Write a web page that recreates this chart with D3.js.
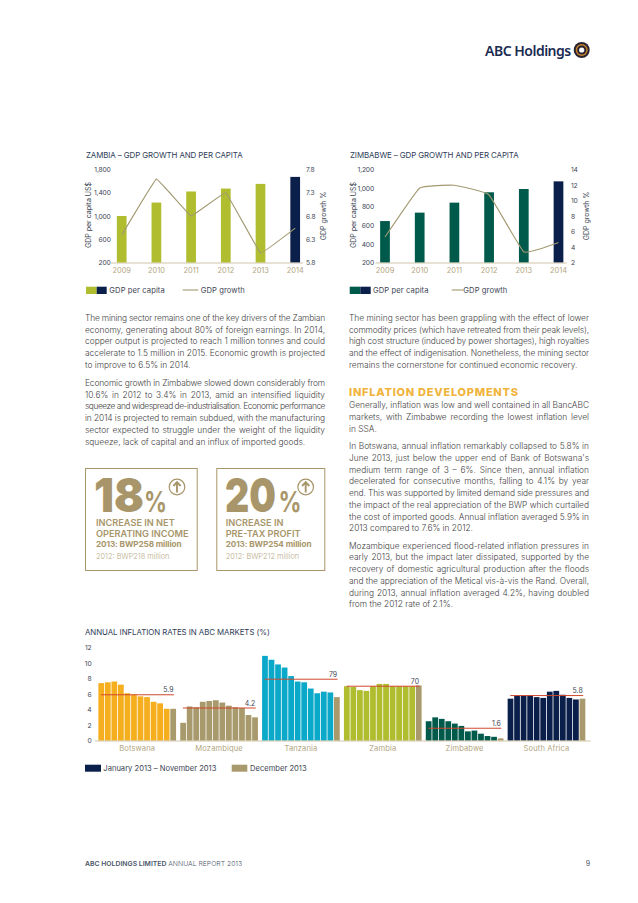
<!DOCTYPE html>
<html><head><meta charset="utf-8">
<style>
html,body{margin:0;padding:0;background:#fff}
svg{display:block}
text{font-family:Inter,"Liberation Sans",sans-serif}
</style>
<script src="https://cdn.jsdelivr.net/npm/d3@7"></script>
</head><body>
<svg id="page" width="638" height="903"></svg>
<script>
const years = ["2009","2010","2011","2012","2013","2014"];
const zambiaGdp = [1000,1230,1420,1470,1550,1670];
const zambiaGrowth = [6.39,7.59,6.8,7.3,6.01,6.54];
const zimbabweGdp = [646,736,843,954,989,1071];
const zimbabweGrowth = [5.3,11.6,11.95,10.7,3.4,4.6];
const zambiaLeftTicks = [200,600,1000,1400,1800];
const zambiaRightTicks = [5.8,6.3,6.8,7.3,7.8];
const zimbabweLeftTicks = [200,400,600,800,1000,1200];
const zimbabweRightTicks = [2,4,6,8,10,12,14];

const markets = ["Botswana","Mozambique","Tanzania","Zambia","Zimbabwe","South Africa"];
const marketMonths = ["Jan","Feb","Mar","Apr","May","Jun","Jul","Aug","Sep","Oct","Nov","Dec"];
const botswana = [7.4,7.5,7.6,7.2,6.1,5.9,5.7,5.6,5.0,4.8,4.1,4.1];
const mozambique = [2.3,4.4,4.3,5.0,5.1,5.2,4.9,4.5,4.3,4.2,3.3,3.0];
const tanzania = [10.9,10.4,9.8,9.4,8.3,7.6,7.5,6.7,6.1,6.3,6.2,5.6];
const zambiaInfl = [7.0,6.9,6.5,6.4,7.0,7.3,7.3,7.0,7.0,7.0,7.0,7.1];
const zimbabweInfl = [2.5,3.0,2.8,2.5,2.2,1.9,1.2,1.3,0.9,0.6,0.5,0.3];
const southAfrica = [5.4,5.8,5.8,5.8,5.6,5.5,6.3,6.4,5.9,5.5,5.3,5.4];
const marketSeries = [botswana,mozambique,tanzania,zambiaInfl,zimbabweInfl,southAfrica];
const marketAverages = [5.9,4.2,7.9,7.0,1.6,5.8];
const averageLabels = ["5.9","4.2","79","70","1.6","5.8"];
const inflationTicks = [0,2,4,6,8,10,12];

const leftParas = [
 ["The mining sector remains one of the key drivers of the Zambian","economy, generating about 80% of foreign earnings. In 2014,","copper output is projected to reach 1 million tonnes and could","accelerate to 1.5 million in 2015. Economic growth is projected","to improve to 6.5% in 2014."],
 ["Economic growth in Zimbabwe slowed down considerably from","10.6% in 2012 to 3.4% in 2013, amid an intensified liquidity","squeeze and widespread de-industrialisation. Economic performance","in 2014 is projected to remain subdued, with the manufacturing","sector expected to struggle under the weight of the liquidity","squeeze, lack of capital and an influx of imported goods."]
];
const rightPara1 = ["The mining sector has been grappling with the effect of lower","commodity prices (which have retreated from their peak levels),","high cost structure (induced by power shortages), high royalties","and the effect of indigenisation. Nonetheless, the mining sector","remains the cornerstone for continued economic recovery."];
const rightPara2 = ["Generally, inflation was low and well contained in all BancABC","markets, with Zimbabwe recording the lowest inflation level","in SSA."];
const rightPara3 = ["In Botswana, annual inflation remarkably collapsed to 5.8% in","June 2013, just below the upper end of Bank of Botswana's","medium term range of 3 – 6%. Since then, annual inflation","decelerated for consecutive months, falling to 4.1% by year","end. This was supported by limited demand side pressures and","the impact of the real appreciation of the BWP which curtailed","the cost of imported goods. Annual inflation averaged 5.9% in","2013 compared to 7.6% in 2012."];
const rightPara4 = ["Mozambique experienced flood-related inflation pressures in","early 2013, but the impact later dissipated, supported by the","recovery of domestic agricultural production after the floods","and the appreciation of the Metical vis-à-vis the Rand. Overall,","during 2013, annual inflation averaged 4.2%, having doubled","from the 2012 rate of 2.1%."];

const TAN="#a89a6c", TANTXT="#b3a681", NAVY="#0b1f4b", GREEN="#afbd2f", TEAL="#005a4b", INK="#4d5560", TITLE="#2f3d58";
const svg=d3.select("#page");

function para(lines,x,y0,w,step){
  const g=svg.append("g");
  lines.forEach((s,i)=>{
    const t=g.append("text").attr("x",x).attr("y",y0+i*step).attr("font-size",8.4).attr("font-weight",300).attr("fill","#444").text(s);
    if(i<lines.length-1){
      const n=s.split(" ").length-1, len=t.node().getComputedTextLength();
      if(len>w) t.attr("letter-spacing",(w-len)/s.length);
      else if(n>0) t.attr("word-spacing",(w-len)/n);
    }
  });
}
leftParas.forEach((p,i)=>para(p,85,[321,386][i],240,11.7));
para(rightPara1,349,321,240,11.7);
para(rightPara2,349,407.7,240,11.9);
para(rightPara3,349,449,240,11.75);
para(rightPara4,349,548.7,240,11.7);
svg.append("text").attr("x",349).attr("y",395.7).attr("font-size",11).attr("font-weight",800).attr("letter-spacing",.75).attr("fill","#f0b43c").text("INFLATION DEVELOPMENTS");

// logo
svg.append("text").attr("x",485).attr("y",56).attr("font-size",14).style("font-family","'Noto Sans'").attr("font-weight",600).attr("letter-spacing",-.5).attr("fill","#1b2b52").text("ABC Holdings");
[[8,"#2a2430"],[6,"#c9822e"],[4.6,"#2a2430"],[2.6,"#fff"]].forEach(([r,c])=>svg.append("circle").attr("cx",581.7).attr("cy",50).attr("r",r).attr("fill",c));

// combo charts
function combo(o){
  const g=svg.append("g");
  const x=d3.scaleBand().domain(years).range([o.cx0-17.35,o.cx0+5*34.7+17.35]).paddingInner(.72).paddingOuter(.36);
  const yL=d3.scaleLinear().domain(o.leftDomain).range([262.7,169.3]);
  const yR=d3.scaleLinear().domain(o.rightDomain).range([262.7,169.3]);
  g.append("text").attr("x",o.titleX).attr("y",157.6).attr("font-size",o.titleSize).attr("font-weight",400).attr("letter-spacing",-.1).attr("fill",TITLE).text(o.title);
  g.selectAll("rect.b").data(o.gdp).join("rect").attr("x",(d,i)=>x(years[i])).attr("width",x.bandwidth()).attr("y",d=>yL(d)).attr("height",d=>yL.range()[0]-yL(d)).attr("fill",(d,i)=>i==5?NAVY:o.color);
  const axL=d3.axisLeft(yL).tickValues(o.leftTicks).tickSize(0).tickPadding(0).tickFormat(d3.format(","));
  const aL=g.append("g").attr("transform",`translate(${o.leftX},0)`).call(axL);
  aL.select(".domain").remove();
  const axR=d3.axisRight(yR).tickValues(o.rightTicks).tickSize(0).tickPadding(0);
  const aR=g.append("g").attr("transform",`translate(${o.rightX},0)`).call(axR);
  aR.select(".domain").remove();
  g.selectAll(".tick text").attr("font-size",6.7).attr("letter-spacing",-.15).attr("font-family","Inter").attr("fill","#3d4654");
  const axB=d3.axisBottom(x).tickSize(0).tickPadding(4.5);
  const aB=g.append("g").attr("transform","translate(0,263)").call(axB);
  aB.select(".domain").remove();
  aB.selectAll("text").attr("font-size",7.4).attr("letter-spacing",0).attr("font-family","Inter").attr("fill",TANTXT);
  g.append("line").attr("x1",o.axis[0]).attr("x2",o.axis[1]).attr("y1",263).attr("y2",263).attr("stroke","#cfc6a8").attr("stroke-width",1.2);
  const line=d3.line().x((d,i)=>x(years[i])+x.bandwidth()/2).y(d=>yR(d)).curve(o.curve);
  g.append("path").attr("d",line(o.growth)).attr("fill","none").attr("stroke","#a39a72").attr("stroke-width",1.1);
  const rot=(tx,ty,s)=>g.append("text").attr("transform",`translate(${tx},${ty}) rotate(-90)`).attr("text-anchor","middle").attr("font-size",7).attr("fill","#3d4654").text(s);
  rot(o.ltX,215,"GDP per capita US$");
  rot(o.rtX,216,"GDP growth %");
  const L=o.legend;
  g.append("rect").attr("x",L[0]).attr("y",286.7).attr("width",L[1]-L[0]).attr("height",7.3).attr("fill",o.color);
  g.append("rect").attr("x",L[1]).attr("y",286.7).attr("width",L[2]-L[1]).attr("height",7.3).attr("fill",NAVY);
  g.append("text").attr("x",L[3]).attr("y",292.7).attr("font-size",7.6).attr("letter-spacing",.1).attr("fill","#3d4654").text("GDP per capita");
  g.append("line").attr("x1",L[4]).attr("x2",L[5]).attr("y1",290).attr("y2",290).attr("stroke","#a39a72").attr("stroke-width",1.1);
  g.append("text").attr("x",L[6]).attr("y",292.7).attr("font-size",7.6).attr("letter-spacing",.1).attr("fill","#3d4654").text("GDP growth");
}
combo({title:"ZAMBIA – GDP GROWTH AND PER CAPITA",titleX:86,titleSize:7.9,cx0:121.7,gdp:zambiaGdp,growth:zambiaGrowth,color:GREEN,leftDomain:[200,1800],rightDomain:[5.8,7.8],leftTicks:zambiaLeftTicks,rightTicks:zambiaRightTicks,leftX:110.7,rightX:306,axis:[111,303],ltX:91,rtX:326,legend:[86,96.7,106.7,109.3,182.7,198.3,200.7],curve:d3.curveCardinal.tension(.85)});
combo({title:"ZIMBABWE – GDP GROWTH AND PER CAPITA",titleX:350,titleSize:7.9,cx0:385,gdp:zimbabweGdp,growth:zimbabweGrowth,color:TEAL,leftDomain:[200,1200],rightDomain:[2,14],leftTicks:zimbabweLeftTicks,rightTicks:zimbabweRightTicks,leftX:374,rightX:571,axis:[375.7,566.7],ltX:355.7,rtX:589,legend:[349.7,360.3,370.7,373,451.7,463.3,463.3],curve:d3.curveCardinal.tension(.72)});

// stat boxes
function box(o){
  const g=svg.append("g"), C="#a8966a";
  g.append("rect").attr("x",o.x0+.5).attr("y",468.5).attr("width",o.x1-o.x0).attr("height",102).attr("fill","#fff").attr("stroke",C).attr("stroke-width",1);
  g.append("text").attr("x",o.numX).attr("y",512).attr("font-size",47).attr("font-weight",900).attr("textLength",o.numW).attr("lengthAdjust","spacingAndGlyphs").attr("fill",C).text(o.num);
  g.append("text").attr("x",o.pctX).attr("y",512).attr("font-size",28).attr("font-weight",700).attr("textLength",23).attr("lengthAdjust","spacingAndGlyphs").attr("fill",C).text("%");
  g.append("circle").attr("cx",o.arrow).attr("cy",487).attr("r",7.8).attr("fill","none").attr("stroke",C).attr("stroke-width",1.2);
  g.append("path").attr("d",`M${o.arrow},492.5V482.5M${o.arrow-3.6},486l3.6,-3.8l3.6,3.8`).attr("fill","none").attr("stroke",C).attr("stroke-width",1.9);
  const tx=o.tx;
  o.lines.forEach((s,i)=>g.append("text").attr("x",tx).attr("y",525.7+i*11).attr("font-size",9.2).attr("font-weight",600).attr("fill",C).text(s));
  g.append("text").attr("x",tx).attr("y",546.7).attr("font-size",8.2).attr("font-weight",700).attr("letter-spacing",-.1).attr("fill",C).text(o.y13);
  g.append("text").attr("x",tx).attr("y",559.3).attr("font-size",7.4).attr("font-weight",300).attr("fill",C).attr("opacity",.8).text(o.y12);
}
box({x0:85,x1:196.7,numX:94,numW:50,pctX:144,arrow:177,num:"18",tx:96,lines:["INCREASE IN NET","OPERATING INCOME"],y13:"2013: BWP258 million",y12:"2012: BWP218 million"});
box({x0:216.3,x1:324.3,numX:225,numW:51,pctX:278.5,arrow:305.7,num:"20",tx:225.7,lines:["INCREASE IN","PRE-TAX PROFIT"],y13:"2013: BWP254 million",y12:"2012: BWP212 million"});

// inflation chart
(function(){
  const g=svg.append("g");
  const colors=["#f5ae1e",TAN,"#0ba9c9",GREEN,TEAL,NAVY];
  const X=d3.scaleBand().domain(markets).range([98,585.7]).paddingInner(.0415).paddingOuter(0);
  const inner=d3.scaleBand().domain(marketMonths).range([0,X.bandwidth()]).paddingInner(.12).paddingOuter(.06);
  const y=d3.scaleLinear().domain([0,12]).range([740.7,647.3]);
  g.append("text").attr("x",85).attr("y",635).attr("font-size",7.85).attr("letter-spacing",-.05).attr("fill",TITLE).text("ANNUAL INFLATION RATES IN ABC MARKETS (%)");
  const ax=g.append("g").attr("transform","translate(91.7,0)").call(d3.axisLeft(y).tickValues(inflationTicks).tickSize(0).tickPadding(0));
  ax.select(".domain").remove();
  ax.selectAll("text").attr("font-size",6.7).attr("font-family","Inter").attr("fill","#3d4654");
  markets.forEach((m,k)=>{
    const gg=g.append("g").attr("transform",`translate(${X(m)},0)`);
    gg.selectAll("rect").data(marketSeries[k]).join("rect")
      .attr("x",(d,i)=>inner(marketMonths[i])).attr("width",inner.bandwidth())
      .attr("y",d=>y(d)).attr("height",d=>y(0)-y(d))
      .attr("fill",(d,i)=>i==11?TAN:colors[k]);
    gg.append("line").attr("x1",3).attr("x2",X.bandwidth()-2.5).attr("y1",y(marketAverages[k])).attr("y2",y(marketAverages[k])).attr("stroke","#d0492f").attr("stroke-width",1);
    gg.append("text").attr("x",X.bandwidth()-3).attr("y",y(marketAverages[k])-2.5).attr("text-anchor","end").attr("font-size",6.9).attr("fill","#3d4654").text(averageLabels[k]);
    gg.append("text").attr("x",X.bandwidth()/2).attr("y",750.5).attr("text-anchor","middle").attr("font-size",7.6).attr("letter-spacing",.1).attr("fill",TANTXT).text(m);
  });
  g.append("line").attr("x1",95).attr("x2",590.7).attr("y1",741).attr("y2",741).attr("stroke","#cfc6a8").attr("stroke-width",1.2);
  g.append("rect").attr("x",85).attr("y",764.7).attr("width",16).attr("height",7).attr("fill",NAVY);
  g.append("text").attr("x",103.3).attr("y",770.7).attr("font-size",7.6).attr("fill","#3d4654").text("January 2013 – November 2013");
  g.append("rect").attr("x",231.7).attr("y",764.7).attr("width",15.6).attr("height",7).attr("fill",TAN);
  g.append("text").attr("x",250).attr("y",770.7).attr("font-size",7.6).attr("fill","#3d4654").text("December 2013");
})();

// footer
const ft=svg.append("text").attr("x",85).attr("y",866).attr("font-size",6.85).attr("fill","#4a5568");
ft.append("tspan").attr("font-weight",600).text("ABC HOLDINGS LIMITED ");
ft.append("tspan").attr("font-weight",300).text("ANNUAL REPORT 2013");
svg.append("text").attr("x",590).attr("y",866).attr("text-anchor","end").attr("font-size",7).attr("fill","#4a5568").text("9");
</script>
</body></html>
